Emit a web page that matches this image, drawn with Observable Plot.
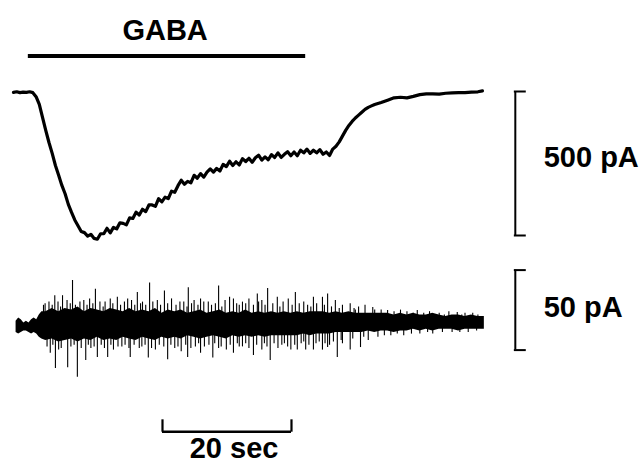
<!DOCTYPE html>
<html>
<head>
<meta charset="utf-8">
<script src="https://cdn.jsdelivr.net/npm/d3@7"></script>
<script src="https://cdn.jsdelivr.net/npm/@observablehq/plot@0.6"></script>
<style>
  body { margin: 0; background: white; }
  #chart { position: relative; width: 644px; height: 464px; }
  #chart svg { position: absolute; left: 0; top: 0; }
</style>
</head>
<body>
<div id="chart"></div>
<script>
// ---- Data (time in seconds, current in pA) ----
// Whole-cell current trace [time s, current pA]
const currentTrace = [
  [0,-3],[0.5,-1],[1,-4],[1.5,-2],[2,-3],[2.5,-1],[3,-4],[3.5,-18],[4,-45],[4.5,-90],
  [5,-135],[5.5,-177],[6,-215],[6.5,-257],[7,-291],[7.5,-326],[8,-355],[8.5,-392],[9,-420],[9.5,-446],
  [10,-466],[10.5,-486],[11,-490],[11.5,-502],[12,-496],[12.5,-510],[13,-513],[13.5,-494],[14,-494],[14.5,-475],
  [15,-491],[15.5,-472],[16,-477],[16.5,-456],[17,-458],[17.5,-463],[18,-439],[18.5,-441],[19,-419],[19.5,-429],
  [20,-409],[20.5,-417],[21,-394],[21.5,-394],[22,-399],[22.5,-372],[23,-383],[23.5,-367],[24,-372],[24.5,-346],
  [25,-350],[25.5,-327],[26,-308],[26.5,-322],[27,-312],[27.5,-317],[28,-291],[28.5,-301],[29,-285],[29.5,-297],
  [30,-280],[30.5,-269],[31,-280],[31.5,-267],[32,-276],[32.5,-253],[33,-261],[33.5,-242],[34,-257],[34.5,-244],
  [35,-255],[35.5,-233],[36,-243],[36.5,-232],[37,-246],[37.5,-230],[38,-221],[38.5,-238],[39,-227],[39.5,-237],
  [40,-219],[40.5,-229],[41,-213],[41.5,-229],[42,-218],[42.5,-209],[43,-223],[43.5,-210],[44,-223],[44.5,-204],
  [45,-213],[45.5,-200],[46,-215],[46.5,-204],[47,-213],[47.5,-202],[48,-218],[48.5,-210],[49,-222],[49.5,-200],
  [50,-190],[50.5,-175],[51,-155],[51.5,-135],[52,-118],[52.5,-104],[53,-92],[53.5,-82],[54,-72],[54.5,-62],
  [55,-55],[55.5,-50],[56,-45],[57,-38],[58,-30],[59,-22],[60,-20],[61,-22],[62,-17],[63,-11],
  [64,-8],[65,-8],[66,-9],[67,-6],[68,-5],[69,-4],[70,-4],[71,-2],[72,-1],[72.7,2]
];

// GABA application (s)
const gabaOn = 2.3;
const gabaOff = 45.3;
const gabaLabel = "GABA";

// Current-noise trace: dense band envelope [time s, upper pA, lower pA]
const noiseEnvelope = [
  [0.4,2,-5],[0.8,4,-6],[1.2,3,-5],[1.6,1,-4],[2.0,2,-4],[2.4,1,-5],[2.8,3,-6],[3.2,4,-5],[3.6,3,-6],[4.0,6,-8],
  [4.4,8,-9],[5,8,-10],[6,10,-9],[7,8,-11],[8,10,-10],[9,9,-9],[10,11,-11],[11,8,-9],[12,10,-10],[13,9,-8],
  [14,8,-10],[15,10,-9],[16,9,-10],[17,8,-8],[18,10,-9],[19,8,-10],[20,9,-8],[21,8,-9],[22,10,-10],[23,7,-8],
  [24,9,-9],[25,8,-8],[26,9,-9],[27,7,-7],[28,8,-8],[29,9,-9],[30,7,-8],[31,8,-7],[32,9,-8],[33,7,-9],
  [34,8,-7],[35,7,-8],[36,9,-7],[37,7,-8],[38,8,-7],[39,7,-8],[40,8,-7],[41,7,-7],[42,8,-7],[43,7,-7],
  [44,8,-7],[45,7,-6],[46,8,-7],[47,8,-6],[48,8,-6],[49,7,-6],[50,8,-5],[51,7,-5],[52,8,-5],[53,7,-5],
  [54,7,-5],[55,7,-4],[56,7,-5],[57,7,-4],[58,7,-4],[59,6,-5],[60,7,-4],[61,6,-4],[62,7,-3],[63,6,-4],
  [64,6,-3],[65,7,-4],[66,6,-3],[67,5,-3],[68,6,-3],[69,6,-4],[70,5,-3],[71,6,-3],[72,5,-3],[73,5,-3]
];

// Individual noise excursions [time s, peak pA]
const noiseSpikes = [
  [9.15,27.5],[21.1,26],[6.4,18],[7.6,18],[12.7,22],[16.1,17],[19.2,20],[23.4,21],[27.1,23],[31.8,24],
  [37.8,19],[39.4,22.5],[43.7,20],[46.5,17],[48.7,19],[4.65,12],[10.9,15],[29.0,16],[34.1,16],[40.9,17],
  [17.7,16],[47.9,17],[49.9,15],[52.2,13],[55.7,10.6],[58.0,8.8],[62.6,8.8],[68.8,7.5],
  [5.5,14],[8.3,15],[11.8,16],[14.2,14],[15.0,16],[18.3,15],[20.0,14],[22.3,15],[24.5,16],[25.8,14],
  [28.0,15],[30.2,14],[32.8,15],[33.5,17],[35.5,14],[36.5,16],[38.5,15],[41.8,14],[42.6,16],[45.0,14],
  [47.0,13],[51.0,12],[53.5,11],[54.5,12],[57.0,9],[60.0,9],[61.0,8],[64.5,8],[66.0,7],[67.5,8],[70.0,7],[71.2,7],
  [4.9,13],[6.0,12],[6.9,14],[7.3,11],[8.8,13],[9.6,12],[10.3,14],[11.4,12],[12.3,13],[13.4,14],
  [13.9,11],[15.4,13],[16.6,12],[17.2,14],[18.8,12],[19.7,13],[20.5,12],[21.6,14],[22.8,12],[23.9,13],
  [25.2,12],[26.4,14],[26.9,11],[27.6,13],[28.6,12],[29.5,14],[30.7,12],[31.3,13],[32.3,11],[34.6,13],
  [35.0,12],[36.0,13],[37.2,12],[38.0,14],[39.0,12],[40.2,13],[41.3,11],[43.2,12],[44.3,13],[45.6,12],
  [46.1,11],[48.2,12],[49.3,11],[50.5,10],[52.8,10],[53.0,9],[56.0,9],[59.0,8],[62.0,7],[63.6,7],
  [66.8,6],[69.5,6],[72.0,6],
  [9.9,-33],[6.5,-27.5],[8.4,-27],[11.2,-22.5],[14.6,-20.6],[20.9,-21],[23.9,-22],[27.0,-20.6],[30.9,-21],[39.8,-22.5],
  [34.1,-18],[37.2,-19.4],[44.0,-16],[46.5,-16],[48.7,-14.4],[5.7,-18],[18.1,-20.6],[29.0,-18],[13.0,-20.6],[50.2,-20.6],
  [45.3,-16],[47.9,-16],[52.2,-16],[53.8,-14.4],
  [7.0,-16],[12.0,-15],[15.5,-16],[16.8,-14],[19.5,-15],[22.0,-16],[25.0,-15],[26.0,-17],[28.2,-14],[31.8,-15],
  [33.0,-16],[35.5,-14],[36.5,-15],[38.5,-16],[41.0,-15],[42.5,-14],[43.0,-16],[45.8,-13],[49.0,-13],[51.0,-12],
  [55.0,-10],[56.5,-8],[58.5,-7],[60.5,-7],[63.0,-6],[65.0,-6],[68.0,-5],[70.5,-5],
  [5.2,-14],[6.1,-13],[7.4,-15],[8.9,-14],[9.4,-13],[10.5,-15],[11.6,-13],[12.5,-14],[13.6,-13],[14.1,-15],
  [15.1,-13],[16.2,-14],[17.3,-13],[17.9,-15],[18.7,-13],[19.9,-14],[20.4,-13],[21.4,-15],[22.6,-13],[23.3,-14],
  [24.4,-13],[25.5,-14],[26.7,-13],[27.5,-15],[28.7,-12],[29.6,-14],[30.3,-13],[31.2,-12],[32.2,-14],[33.6,-13],
  [34.7,-12],[35.0,-14],[36.0,-12],[37.7,-13],[38.9,-12],[39.3,-14],[40.4,-12],[41.6,-13],[42.0,-12],[43.6,-13],
  [44.6,-12],[45.0,-11],[46.9,-12],[47.4,-11],[48.3,-12],[49.6,-11],[50.8,-10],[52.6,-9],[54.3,-8],[57.5,-7],
  [59.5,-6],[61.7,-6],[64.2,-5],[66.5,-5],[69.2,-5],[71.8,-4]
];

// Scale bars
const currentScaleBar = 500;   // pA
const noiseScaleBar = 50;      // pA
const timeScaleBar = 20;       // s
const currentScaleLabel = "500 pA";
const noiseScaleLabel = "50 pA";
const timeScaleLabel = "20 sec";

// ---- Layout constants (not data) ----
const W = 644, H = 464;
const font = {fontFamily: "'Liberation Sans', Arial, Helvetica, sans-serif", fontWeight: "bold", fontSize: 29, fill: "black"};
const xScale = {domain: [0, 100], range: [13, 658]};
const barT = 77.8, capLen = 1.7, labelT = 82.2;
const timeBarStart = 23.1;

const tx = d => d[0];

// Upper panel: GABA bar, whole-cell current, 500 pA bar, time bar
const upperPanel = Plot.plot({
  width: W, height: H,
  margin: 0,
  style: "background: transparent;",
  x: {...xScale, axis: null},
  y: {domain: [0, -currentScaleBar], range: [91, 235], axis: null},
  marks: [
    Plot.ruleY([{y: 123}], {y: "y", x1: gabaOn, x2: gabaOff, stroke: "black", strokeWidth: 4}),
    Plot.text([gabaLabel], {x: (gabaOn + gabaOff) / 2 - 0.3, y: 180, text: d => d, lineAnchor: "bottom", ...font}),
    Plot.line(currentTrace, {x: tx, y: d => d[1], stroke: "black", strokeWidth: 3.2, strokeLinejoin: "round"}),
    // 500 pA bar
    Plot.ruleX([barT], {y1: 0, y2: -currentScaleBar, stroke: "black", strokeWidth: 2}),
    Plot.ruleY([0, -currentScaleBar], {x1: barT - 0.15, x2: barT + capLen, stroke: "black", strokeWidth: 2}),
    Plot.text([currentScaleLabel], {x: labelT, y: -229, text: d => d, textAnchor: "start", lineAnchor: "middle", ...font}),
    // 20 sec bar
    Plot.ruleY([-1181], {x1: timeBarStart, x2: timeBarStart + timeScaleBar, stroke: "black", strokeWidth: 2.5}),
    Plot.ruleX([timeBarStart, timeBarStart + timeScaleBar], {y1: -1183, y2: -1140, stroke: "black", strokeWidth: 2.2}),
    Plot.text([timeScaleLabel], {x: timeBarStart + timeScaleBar / 2 + 1.1, y: -1272, text: d => d, lineAnchor: "bottom", ...font})
  ]
});

// Lower panel: current noise, 50 pA bar
const lowerPanel = Plot.plot({
  width: W, height: H,
  margin: 0,
  style: "background: transparent;",
  x: {...xScale, axis: null},
  y: {domain: [0, noiseScaleBar], range: [324, 244], axis: null},
  marks: [
    Plot.areaY(noiseEnvelope, {x: tx, y1: d => d[2], y2: d => d[1], fill: "black"}),
    Plot.ruleX(noiseSpikes, {x: tx, y1: 0, y2: d => d[1], stroke: "black", strokeWidth: 1.1}),
    Plot.ruleX([barT], {y1: 34, y2: 34 - noiseScaleBar, stroke: "black", strokeWidth: 2}),
    Plot.ruleY([34, 34 - noiseScaleBar], {x1: barT - 0.15, x2: barT + capLen, stroke: "black", strokeWidth: 2}),
    Plot.text([noiseScaleLabel], {x: labelT, y: 10.6, text: d => d, textAnchor: "start", lineAnchor: "middle", ...font})
  ]
});

const chart = document.getElementById("chart");
chart.appendChild(upperPanel);
chart.appendChild(lowerPanel);
</script>
</body>
</html>
